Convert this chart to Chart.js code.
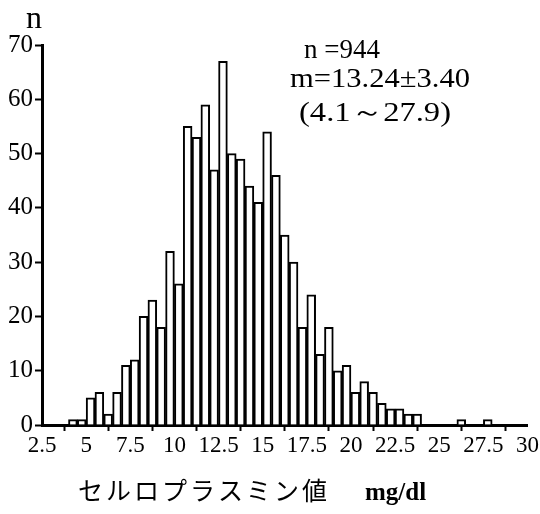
<!DOCTYPE html>
<html><head><meta charset="utf-8">
<script src="https://cdn.jsdelivr.net/npm/chart.js@4"></script>
<style>html,body{margin:0;padding:0;background:#fff}</style>
</head><body>
<canvas id="c" width="540" height="514"></canvas>
<script>
// ---- data ----
const binWidth = 0.5;
const binLow = [4.0,4.5,5.0,5.5,6.0,6.5,7.0,7.5,8.0,8.5,9.0,9.5,10.0,10.5,11.0,11.5,12.0,12.5,13.0,13.5,
                14.0,14.5,15.0,15.5,16.0,16.5,17.0,17.5,18.0,18.5,19.0,19.5,20.0,20.5,21.0,21.5,22.0,22.5,23.0,23.5,
                24.0,24.5,25.0,25.5,26.0,26.5,27.0,27.5];
const counts = [1,1,5,6,2,6,11,12,20,23,18,32,26,55,53,59,47,67,50,49,
                44,41,54,46,35,30,18,24,13,18,10,11,6,8,6,4,3,3,2,2,
                0,0,0,0,1,0,0,1];
const xTickLabels = ['2.5','5','7.5','10','12.5','15','17.5','20','22.5','25','27.5','30'];
const yTickLabels = ['0','10','20','30','40','50','60','70'];
const yAxisLabel = 'n';
const xAxisTitle = 'セルロプラスミン値';
const xAxisUnit = 'mg/dl';
const statLines = ['n =944', 'm=13.24±3.40', '(4.1～27.9)'];

const SERIF = "'Liberation Serif', 'Times New Roman', serif";

function fitText(ctx, text, x, y, w) {
  const m = ctx.measureText(text).width;
  ctx.save();
  ctx.translate(x, y);
  ctx.scale(w / m, 1);
  ctx.fillText(text, 0, 0);
  ctx.restore();
}

const textPlugin = {
  id: 'texts',
  afterDraw(chart) {
    const ctx = chart.ctx;
    ctx.save();
    ctx.fillStyle = '#000';
    ctx.textBaseline = 'alphabetic';
    ctx.textAlign = 'left';
    // y axis label
    ctx.font = "32px " + SERIF;
    ctx.fillText(yAxisLabel, 26, 28);
    // stats
    ctx.font = "27px " + SERIF;
    ctx.fillText(statLines[0], 304, 58);
    fitText(ctx, statLines[1], 290, 87, 180);
    fitText(ctx, statLines[2], 299, 121, 152);
    // x title
    ctx.font = "25px 'Noto Sans CJK JP'";
    ctx.letterSpacing = '3px';
    ctx.fillText(xAxisTitle, 78, 500);
    ctx.letterSpacing = '0px';
    ctx.font = "bold 25px " + SERIF;
    ctx.fillText(xAxisUnit, 365, 500);
    ctx.restore();
  }
};

new Chart(document.getElementById('c'), {
  type: 'bar',
  data: {
    datasets: [{
      data: binLow.map((b, i) => ({ x: b + binWidth / 2, y: counts[i] })),
      backgroundColor: '#fff',
      borderColor: '#000',
      borderWidth: 2,
      borderSkipped: 'start',
      barPercentage: 1,
      categoryPercentage: 1
    }]
  },
  options: {
    responsive: false,
    animation: false,
    layout: { padding: { top: 45, left: 0, right: 0, bottom: 0 } },
    plugins: { legend: { display: false }, tooltip: { enabled: false } },
    scales: {
      x: {
        type: 'linear', min: 2.5, max: 30, offset: false,
        ticks: {
          stepSize: 2.5, autoSkip: false, maxRotation: 0, color: '#000', padding: 1,
          font: { family: SERIF, size: 23 },
          callback: (v, i) => xTickLabels[i]
        },
        grid: { drawOnChartArea: false, drawTicks: true, tickLength: 6, tickColor: '#000', tickWidth: 2 },
        border: { display: true, color: '#000', width: 3 },
        afterFit: s => { s.height = 89; }
      },
      y: {
        min: 0, max: 70,
        ticks: {
          stepSize: 5, color: '#000', padding: 2,
          font: { family: SERIF, size: 25 },
          callback: v => (v % 10 === 0 ? yTickLabels[v / 10] : '')
        },
        grid: { drawOnChartArea: false, drawTicks: true, tickLength: 7, tickColor: '#000', tickWidth: 2 },
        border: { display: true, color: '#000', width: 3 },
        afterFit: s => { s.width = 42; }
      }
    }
  },
  plugins: [textPlugin]
});
</script>
</body></html>
